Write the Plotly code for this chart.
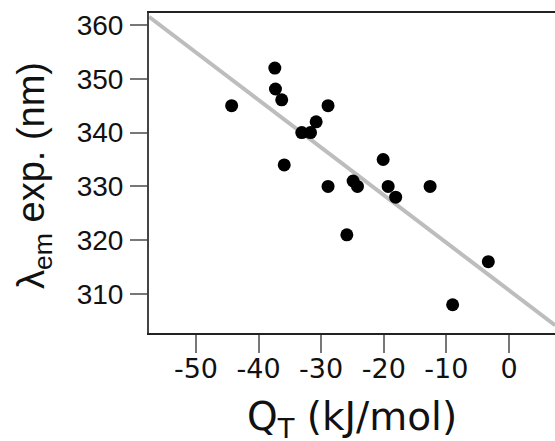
import plotly.graph_objects as go

# Data
qt_values = [-44.3, -37.4, -37.3, -36.3, -28.9, -30.8, -33.1, -31.7, -35.9, -20.1,
             -28.9, -24.9, -24.2, -19.3, -18.1, -12.6, -25.9, -3.3, -9.0]
lambda_em = [345.0, 352.0, 348.1, 346.1, 345.0, 342.0, 340.0, 340.0, 334.0, 335.0,
             330.0, 331.0, 330.0, 330.0, 328.0, 330.0, 321.0, 316.0, 308.0]
x_ticks = [-50, -40, -30, -20, -10, 0]
y_ticks = [310, 320, 330, 340, 350, 360]
fit_x = [-57.5, 7.35]
fit_slope = -0.884
fit_intercept = 310.7
fit_y = [fit_intercept + fit_slope * v for v in fit_x]

W, H = 555, 441
L, R, T, B = 149, 0, 13, 441 - 333
PH = H - T - B
PW = W - L - R

fig = go.Figure()
fig.add_trace(go.Scatter(
    x=fit_x, y=fit_y, mode="lines",
    line=dict(color="#bdbdbd", width=4),
    showlegend=False, hoverinfo="skip"))
fig.add_trace(go.Scatter(
    x=qt_values, y=lambda_em, mode="markers",
    marker=dict(color="black", size=13, line=dict(width=0)),
    showlegend=False))

fig.update_layout(
    width=W, height=H,
    margin=dict(l=L, r=R, t=T, b=B, autoexpand=False),
    paper_bgcolor="white", plot_bgcolor="white",
    xaxis=dict(
        range=[-57.5, 7.35], tickvals=x_ticks,
        ticktext=[str(v) for v in x_ticks],
        showgrid=False, zeroline=False, automargin=False,
        showline=True, linecolor="#222", linewidth=2, mirror=True,
        ticks="outside", ticklen=18, tickwidth=2, tickcolor="#777",
        ticklabelstandoff=-7,
        tickfont=dict(family="DejaVu Sans", size=27, color="#111"),
    ),
    yaxis=dict(
        range=[302.75, 362.23], tickvals=y_ticks,
        ticktext=[str(v) for v in y_ticks],
        showgrid=False, zeroline=False, automargin=False,
        showline=True, linecolor="#444", linewidth=2, mirror=False,
        ticks="outside", ticklen=17, tickwidth=2, tickcolor="#777",
        ticklabelstandoff=1,
        tickfont=dict(family="Liberation Sans", size=28, color="#111"),
    ),
)

# axis titles as annotations (paper coordinates)
fig.add_annotation(
    text="Q<sub>T</sub> (kJ/mol)", xref="paper", yref="paper",
    x=0.5, y=-86 / PH, xanchor="center", yanchor="middle",
    showarrow=False, font=dict(family="DejaVu Sans", size=39, color="#111"))
fig.add_annotation(
    text="λ<sub>em</sub> exp. (nm)", xref="paper", yref="paper",
    x=-115 / PW, y=0.5 - 3 / PH,
    xanchor="center", yanchor="middle", textangle=-90,
    showarrow=False, font=dict(family="Liberation Sans", size=38, color="#111"))

fig.write_html(
    "out.html",
    config={"displayModeBar": False},
    post_script="document.body.style.margin='0';document.body.style.overflow='hidden';")
